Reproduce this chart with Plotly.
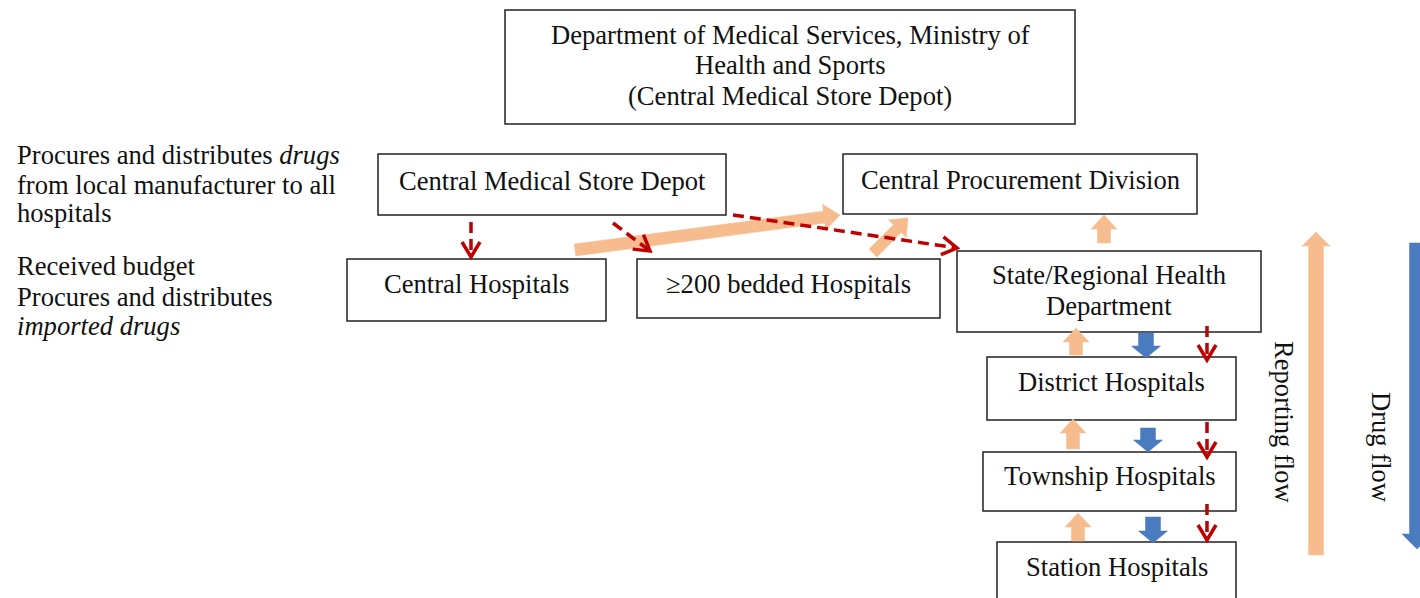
import numpy as np
import plotly.graph_objects as go

W, H = 1420, 598
FONT = "Liberation Serif"
FSIZE = 26.6
TXT = "#111111"
ORANGE = "#F6BC8E"
BLUE = "#4A7BBF"
RED = "#C00000"

# ---- boxes (pixel coordinates of the diagram canvas) ----
box_lines = [
    ["Department of Medical Services, Ministry of", "Health and Sports", "(Central Medical Store Depot)"],
    ["Central Medical Store Depot"],
    ["Central Procurement Division"],
    ["Central Hospitals"],
    ["\u2265200 bedded Hospitals"],
    ["State/Regional Health", "Department"],
    ["District Hospitals"],
    ["Township Hospitals"],
    ["Station Hospitals"],
]
box_left = [505, 378, 843, 347, 637, 957, 987, 983, 997]
box_right = [1075, 726, 1197, 606, 940, 1261, 1236, 1236, 1236]
box_top = [10, 154, 154, 259, 259, 251, 357, 452, 542]
box_bottom = [124, 215, 214, 321, 318, 332, 420, 511, 620]
box_line_y = [[35, 65, 96], [181], [180], [284], [284], [275, 306], [382], [476], [567]]

# ---- left-hand notes ----
note_lines = ["Procures and distributes <i>drugs</i>", "from local manufacturer to all", "hospitals",
              "Received budget", "Procures and distributes", "<i>imported drugs</i>"]
note_y = [155, 185, 213, 266, 297, 326]
note_x = 15

# ---- side labels ----
side_labels = ["Reporting flow", "Drug flow"]
side_x = [1284, 1381]
side_y = [422, 447]

# ---- orange (reporting) block arrows: start -> tip ----
orange_start = [(575, 250), (873, 253), (1104, 243), (1076, 355), (1073, 449), (1078, 541), (1316, 555)]
orange_tip = [(840, 215), (908, 218), (1104, 215), (1076, 328), (1073, 419), (1078, 513), (1316, 232)]
orange_shaft = [12, 11, 13, 13, 13, 13, 15]
orange_head_w = [26, 25, 26, 26, 26, 26, 28]
orange_head_l = [16, 15, 14, 14, 14, 14, 14]

# ---- blue (drug) block arrows ----
blue_start = [(1146, 333), (1148, 428), (1153, 517), (1417, 243)]
blue_tip = [(1146, 358), (1148, 452), (1153, 543), (1417, 549)]
blue_shaft = [15, 15, 15, 15]
blue_head_w = [29, 29, 29, 30]
blue_head_l = [12, 12, 12, 15]

# ---- red dashed arrows ----
red_start = [(471, 222), (613, 223), (733, 215), (1207, 326), (1207, 422), (1207, 504)]
red_tip = [(471, 257), (650, 251), (957, 248), (1207, 360), (1207, 457), (1207, 540)]


def block_arrow(p0, p1, w, hw, hl):
    p0 = np.array(p0, float)
    p1 = np.array(p1, float)
    d = (p1 - p0) / np.linalg.norm(p1 - p0)
    n = np.array([-d[1], d[0]])
    base = p1 - d * hl
    pts = [p0 + n * w / 2, base + n * w / 2, base + n * hw / 2, p1,
           base - n * hw / 2, base - n * w / 2, p0 - n * w / 2, p0 + n * w / 2]
    xs, ys = zip(*pts)
    return list(xs), list(ys)


fig = go.Figure()

# boxes
shapes = []
for l, r, t, b in zip(box_left, box_right, box_top, box_bottom):
    shapes.append(dict(type="rect", xref="x", yref="y", x0=l, x1=r, y0=t, y1=b,
                       line=dict(color="#222222", width=1.5), fillcolor="white", layer="below"))

# orange arrows
for s, e, w, hw, hl in zip(orange_start, orange_tip, orange_shaft, orange_head_w, orange_head_l):
    xs, ys = block_arrow(s, e, w, hw, hl)
    fig.add_trace(go.Scatter(x=xs, y=ys, mode="lines", fill="toself", fillcolor=ORANGE,
                             line=dict(color=ORANGE, width=0.5), hoverinfo="skip"))

# blue arrows
for s, e, w, hw, hl in zip(blue_start, blue_tip, blue_shaft, blue_head_w, blue_head_l):
    xs, ys = block_arrow(s, e, w, hw, hl)
    fig.add_trace(go.Scatter(x=xs, y=ys, mode="lines", fill="toself", fillcolor=BLUE,
                             line=dict(color=BLUE, width=0.5), hoverinfo="skip"))

# red dashed arrows
for s, e in zip(red_start, red_tip):
    p0 = np.array(s, float)
    p1 = np.array(e, float)
    d = (p1 - p0) / np.linalg.norm(p1 - p0)
    n = np.array([-d[1], d[0]])
    fig.add_trace(go.Scatter(x=[p0[0], p1[0] - d[0] * 2], y=[p0[1], p1[1] - d[1] * 2], mode="lines",
                             line=dict(color=RED, width=3.5, dash="11px,6px"), hoverinfo="skip"))
    base = p1 - d * 15
    a = base + n * 9
    b = base - n * 9
    fig.add_trace(go.Scatter(x=[a[0], p1[0], b[0]], y=[a[1], p1[1], b[1]], mode="lines",
                             line=dict(color=RED, width=3.5), hoverinfo="skip"))

annotations = []
for lines, ys, l, r in zip(box_lines, box_line_y, box_left, box_right):
    for txt, y in zip(lines, ys):
        annotations.append(dict(x=(l + r) / 2, y=y, xref="x", yref="y", text=txt, showarrow=False,
                                xanchor="center", yanchor="middle",
                                font=dict(family=FONT, size=FSIZE, color=TXT)))
for txt, y in zip(note_lines, note_y):
    annotations.append(dict(x=note_x, y=y, xref="x", yref="y", text=txt, showarrow=False,
                            xanchor="left", yanchor="middle",
                            font=dict(family=FONT, size=FSIZE, color=TXT)))
for txt, x, y in zip(side_labels, side_x, side_y):
    annotations.append(dict(x=x, y=y, xref="x", yref="y", text=txt, showarrow=False, textangle=90,
                            xanchor="center", yanchor="middle",
                            font=dict(family=FONT, size=FSIZE, color=TXT)))

fig.update_layout(
    width=W, height=H, margin=dict(l=0, r=0, t=0, b=0),
    paper_bgcolor="white", plot_bgcolor="white", showlegend=False,
    xaxis=dict(range=[0, W], visible=False, fixedrange=True),
    yaxis=dict(range=[H, 0], visible=False, fixedrange=True),
    shapes=shapes, annotations=annotations, hovermode=False,
)
fig.write_html(
    "out.html",
    config={"displayModeBar": False},
    post_script="document.body.style.margin='0';document.body.style.overflow='hidden';",
)
